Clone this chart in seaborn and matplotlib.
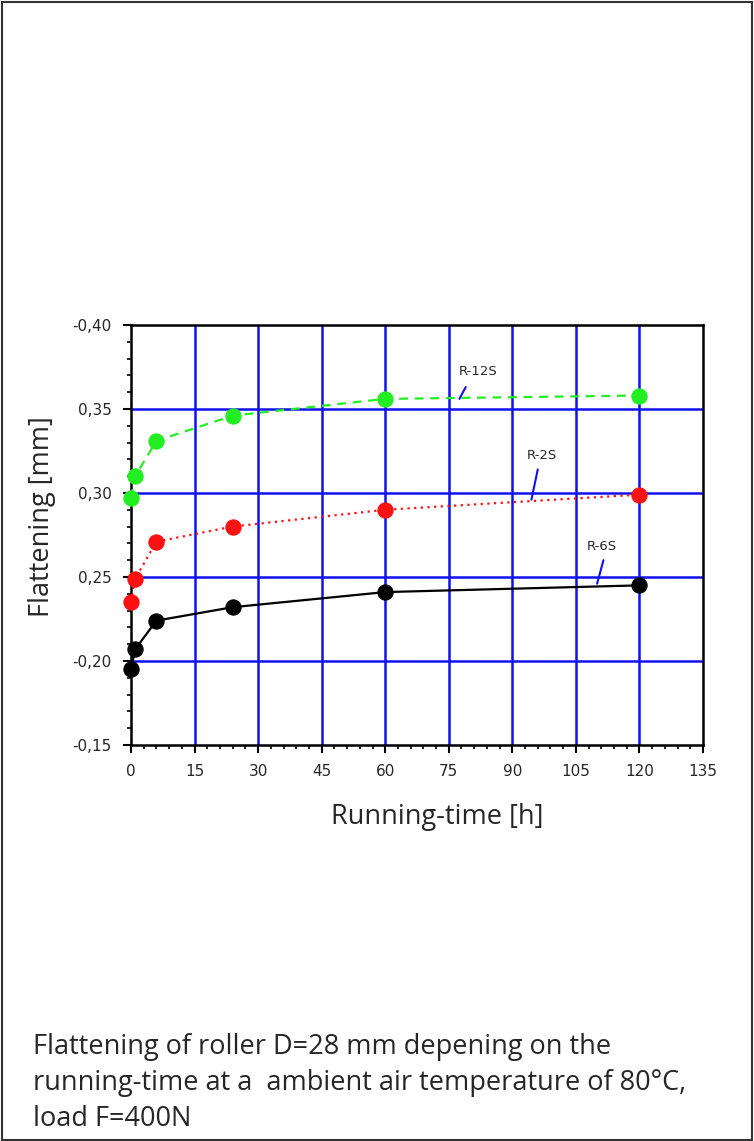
import pandas as pd
import matplotlib.pyplot as plt
import seaborn as sns
from matplotlib.patches import Rectangle
from matplotlib.ticker import MultipleLocator

# data
hours = [0, 1, 6, 24, 60, 120]
r12s = [0.297, 0.310, 0.331, 0.346, 0.356, 0.358]
r2s = [0.235, 0.249, 0.271, 0.280, 0.290, 0.299]
r6s = [0.195, 0.207, 0.224, 0.232, 0.241, 0.245]
series_names = ['R-12S', 'R-2S', 'R-6S']
x_ticks = [0, 15, 30, 45, 60, 75, 90, 105, 120, 135]
y_ticks = [0.15, 0.20, 0.25, 0.30, 0.35, 0.40]
y_tick_labels = ['-0,15', '-0,20', '0,25', '0,30', '0,35', '-0,40']
caption = ('Flattening of roller D=28 mm depening on the\n'
           'running-time at a  ambient air temperature of 80°C,\n'
           'load F=400N')

df = pd.DataFrame({
    'hours': hours * 3,
    'flat': r12s + r2s + r6s,
    'series': [n for n in series_names for _ in hours],
})

sns.set_style('white')
plt.rcParams['font.family'] = ['Open Sans', 'DejaVu Sans']

fig = plt.figure(figsize=(7.54, 11.41), dpi=100)
ax = fig.add_axes([0.1737, 0.3471, 0.7587, 0.3681])

styles = {'R-12S': ('#22ee22', (0, (4, 3))),
          'R-2S': ('#ff1111', (0, (1, 2))),
          'R-6S': ('black', '-')}
for name in series_names:
    col, ls = styles[name]
    sub = df[df['series'] == name]
    sns.lineplot(data=sub, x='hours', y='flat', ax=ax, color=col, linestyle=ls,
                 linewidth=1.6, marker='o', markersize=11, markeredgecolor=col,
                 clip_on=False, zorder=3)

ax.set_xlim(0, 135)
ax.set_ylim(0.15, 0.40)
ax.set_xticks(x_ticks)
ax.set_xticklabels([str(t) for t in x_ticks], family='DejaVu Sans', fontsize=11)
ax.set_yticks(y_ticks)
ax.set_yticklabels(y_tick_labels, family='DejaVu Sans', fontsize=11)
ax.xaxis.set_minor_locator(MultipleLocator(3))
ax.yaxis.set_minor_locator(MultipleLocator(0.01))
ax.tick_params(which='major', direction='out', length=6, width=1.5, color='black', pad=8)
ax.tick_params(which='minor', direction='out', length=3, width=1.2, color='black')
ax.tick_params(axis='x', bottom=True, which='both')
ax.tick_params(axis='y', left=True, which='both')
for s in ax.spines.values():
    s.set_color('black')
    s.set_linewidth(1.8)

for gx in x_ticks[1:-1]:
    ax.axvline(gx, color='#1010ee', linewidth=1.8, zorder=1)
for gy in y_ticks[1:-1]:
    ax.axhline(gy, color='#1010ee', linewidth=1.8, zorder=1)

ax.set_xlabel('Running-time [h]', fontsize=19.5)
ax.set_ylabel('Flattening [mm]', fontsize=19.5)
ax.xaxis.set_label_coords(0.535, -0.139)
ax.yaxis.set_label_coords(-0.131, 0.543)

# series labels with leader lines
labels = [('R-12S', 82, 0.372, 79, 0.363, 77.5, 0.356),
          ('R-2S', 97, 0.322, 96, 0.314, 94.5, 0.296),
          ('R-6S', 111, 0.268, 111.5, 0.260, 110, 0.246)]
for txt, tx, ty, x0, y0, x1, y1 in labels:
    ax.text(tx, ty, txt, fontsize=9.5, family='DejaVu Sans', ha='center', va='center')
    ax.plot([x0, x1], [y0, y1], color='#1010ee', linewidth=1.5, zorder=4)

fig.text(0.044, 0.007, caption, fontsize=19.5, ha='left', va='bottom', linespacing=1.38)
fig.add_artist(Rectangle((0.002, 0.001), 0.996, 0.997, transform=fig.transFigure,
                         fill=False, edgecolor='#333333', linewidth=1.5))

fig.savefig('out.png', dpi=100)
